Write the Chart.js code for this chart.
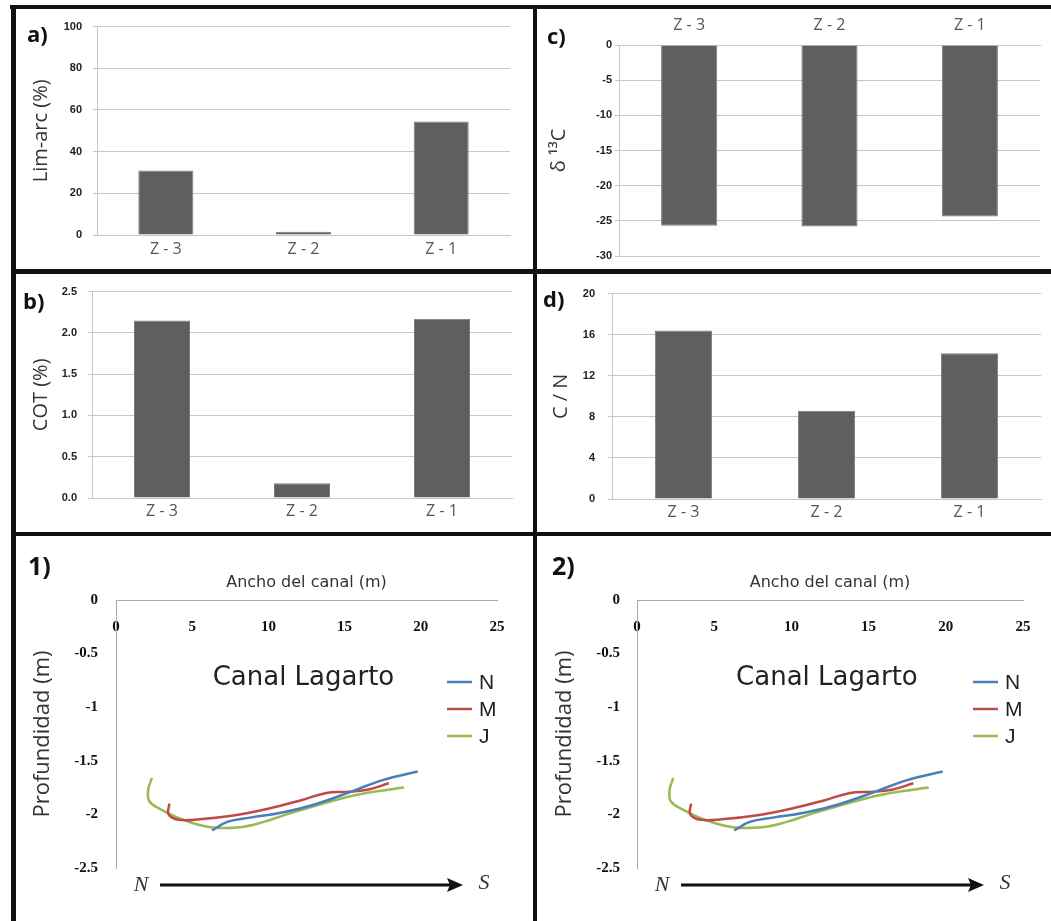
<!DOCTYPE html>
<html>
<head>
<meta charset="utf-8">
<script src="https://cdn.jsdelivr.net/npm/chart.js@4.4.1/dist/chart.umd.min.js"></script>
<style>
  body { margin: 0; background: #fff; width: 1051px; height: 921px; position: relative; overflow: hidden; }
  canvas { position: absolute; }
  .rule { position: absolute; background: #111; }
  .tag { position: absolute; font: 700 22px 'Open Sans', sans-serif; line-height: 1; color: #111; }
  .tag.big { font-size: 25px; }
</style>
</head>
<body>
<div class="rule" style="left:10px;top:5px;width:1041px;height:4px"></div>
<div class="rule" style="left:11px;top:5px;width:5px;height:916px"></div>
<div class="rule" style="left:533px;top:5px;width:4px;height:916px"></div>
<div class="rule" style="left:11px;top:269px;width:1040px;height:5px"></div>
<div class="rule" style="left:11px;top:532px;width:1040px;height:4px"></div>

<canvas id="chartA"></canvas>
<canvas id="chartC"></canvas>
<canvas id="chartB"></canvas>
<canvas id="chartD"></canvas>
<canvas id="chart1"></canvas>
<canvas id="chart2"></canvas>

<div class="tag" style="left:27px;top:22px">a)</div>
<div class="tag" style="left:547px;top:24px">c)</div>
<div class="tag" style="left:23px;top:289px">b)</div>
<div class="tag" style="left:543px;top:287px">d)</div>
<div class="tag big" style="left:28px;top:553px">1)</div>
<div class="tag big" style="left:552px;top:553px">2)</div>

<script>
// bar panels
const zones = ['Z - 3', 'Z - 2', 'Z - 1'];
const limArc = [31, 1.5, 54.5];
const cot = [2.15, 0.18, 2.17];
const d13C = [-25.7, -25.8, -24.4];
const cn = [16.4, 8.6, 14.2];

const limArcTicks = [0, 20, 40, 60, 80, 100];
const cotTicks = [0, 0.5, 1, 1.5, 2, 2.5];
const d13CTicks = [-30, -25, -20, -15, -10, -5, 0];
const cnTicks = [0, 4, 8, 12, 16, 20];

// channel profiles (ancho del canal vs profundidad)
const seriesNames = ['N', 'M', 'J'];
const seriesColors = ['#4a7ebb', '#be4b48', '#98b954'];
const widthN = [6.3, 7.3, 8.8, 11.0, 13.2, 15.4, 17.5, 19.8];
const depthN = [-2.15, -2.07, -2.03, -1.98, -1.90, -1.79, -1.68, -1.60];
const widthM = [3.5, 3.45, 4.1, 5.5, 7.7, 9.9, 12.1, 13.8, 15.1, 16.5, 17.9];
const depthM = [-1.90, -2.00, -2.05, -2.045, -2.01, -1.95, -1.87, -1.80, -1.79, -1.77, -1.71];
const widthJ = [2.35, 2.1, 2.2, 2.9, 4.4, 6.2, 8.1, 9.7, 11.2, 14.3, 16.4, 18.9];
const depthJ = [-1.66, -1.78, -1.88, -1.95, -2.05, -2.12, -2.12, -2.07, -2.0, -1.87, -1.80, -1.75];
const widthTicks = [0, 5, 10, 15, 20, 25];
const depthTicks = [-2.5, -2, -1.5, -1, -0.5, 0];

const GRID = '#c6c6c6';

function place(id, cell) {
    const cv = document.getElementById(id);
    cv.width = cell.w;
    cv.height = cell.h;
    cv.style.left = cell.x + 'px';
    cv.style.top = cell.y + 'px';
    return cv;
}

function barPanel(id, cell, area, values, ticks, title, o) {
    const cv = place(id, cell);
    const top = !!o.xTop;
    new Chart(cv, {
        type: 'bar',
        data: {
            labels: zones,
            datasets: [{
                data: values,
                backgroundColor: '#5f5f5f',
                borderColor: '#7b7b7b',
                borderWidth: 1,
                categoryPercentage: 1,
                barPercentage: 0.4
            }]
        },
        options: {
            responsive: false,
            animation: false,
            layout: { padding: {
                left: 0,
                right: cell.x + cell.w - area.r,
                top: top ? 0 : area.t - cell.y,
                bottom: top ? cell.y + cell.h - area.b : 0
            } },
            plugins: { legend: { display: false }, tooltip: { enabled: false } },
            scales: {
                x: {
                    position: top ? 'top' : 'bottom',
                    grid: { display: false, drawTicks: false },
                    border: { color: GRID },
                    ticks: { color: '#555', font: { family: 'Open Sans', size: 16 }, padding: o.xPad },
                    afterFit: s => { s.height = top ? area.t - cell.y : cell.y + cell.h - area.b; }
                },
                y: {
                    min: ticks[0],
                    max: ticks[ticks.length - 1],
                    afterBuildTicks: s => { s.ticks = ticks.map(v => ({ value: v })); },
                    grid: { color: GRID, tickLength: 4 },
                    border: { color: GRID },
                    ticks: {
                        color: '#222',
                        font: { family: 'Liberation Sans', size: 11, weight: 'bold' },
                        padding: o.yPad,
                        callback: o.fmt || (v => v)
                    },
                    title: {
                        display: true, text: title, color: '#333',
                        font: { family: 'Open Sans', size: 20 },
                        padding: { top: o.tPad, bottom: 0 }
                    },
                    afterFit: s => { s.width = area.l - cell.x; }
                }
            }
        }
    });
}

const profileDecor = {
    id: 'profileDecor',
    afterDraw(chart) {
        const { ctx, chartArea: a, scales: { x, y } } = chart;
        ctx.save();
        // axis title above the top axis
        ctx.fillStyle = '#333';
        ctx.font = '16px "DejaVu Sans"';
        ctx.textAlign = 'center';
        ctx.textBaseline = 'middle';
        ctx.fillText('Ancho del canal (m)', (a.left + a.right) / 2, a.top - 17);

        ctx.fillStyle = '#222';
        ctx.font = '26px "DejaVu Sans"';
        ctx.fillText('Canal Lagarto', x.getPixelForValue(12.3), y.getPixelForValue(-0.73));

        // legend
        ctx.textAlign = 'left';
        ctx.font = '21px "Liberation Sans"';
        chart.data.datasets.forEach((ds, i) => {
            const ly = a.top + 82 + i * 27;
            ctx.strokeStyle = ds.borderColor;
            ctx.lineWidth = 2.5;
            ctx.beginPath();
            ctx.moveTo(a.right - 50, ly);
            ctx.lineTo(a.right - 25, ly);
            ctx.stroke();
            ctx.fillStyle = '#222';
            ctx.fillText(ds.label, a.right - 18, ly + 1);
        });

        // N -> S arrow
        const ay = a.bottom + 17;
        const tip = a.left + 347;
        ctx.font = 'italic 22px "Liberation Serif"';
        ctx.fillStyle = '#333';
        ctx.textAlign = 'center';
        ctx.fillText('N', a.left + 25, ay);
        ctx.fillText('S', a.left + 368, ay - 2);
        ctx.strokeStyle = '#111';
        ctx.lineWidth = 3;
        ctx.beginPath();
        ctx.moveTo(a.left + 44, ay);
        ctx.lineTo(tip - 10, ay);
        ctx.stroke();
        ctx.fillStyle = '#111';
        ctx.beginPath();
        ctx.moveTo(tip, ay);
        ctx.lineTo(tip - 16, ay - 7);
        ctx.lineTo(tip - 13, ay);
        ctx.lineTo(tip - 16, ay + 7);
        ctx.closePath();
        ctx.fill();
        ctx.restore();
    }
};

function profilePanel(id, cell, area, o) {
    const cv = place(id, cell);
    const xs = [widthN, widthM, widthJ];
    const ys = [depthN, depthM, depthJ];
    new Chart(cv, {
        type: 'scatter',
        data: {
            datasets: seriesNames.map((name, i) => ({
                label: name,
                data: xs[i].map((v, k) => ({ x: v, y: ys[i][k] })),
                showLine: true,
                borderColor: seriesColors[i],
                borderWidth: 2.5,
                pointRadius: 0,
                tension: 0.4
            }))
        },
        options: {
            responsive: false,
            animation: false,
            layout: { padding: {
                left: 0,
                top: area.t - cell.y,
                right: cell.x + cell.w - area.r,
                bottom: cell.y + cell.h - area.b
            } },
            plugins: { legend: { display: false }, tooltip: { enabled: false } },
            scales: {
                x: {
                    type: 'linear',
                    position: { y: 0 },
                    min: 0, max: 25,
                    afterBuildTicks: s => { s.ticks = widthTicks.map(v => ({ value: v })); },
                    grid: { display: false, drawTicks: false },
                    border: { color: '#a9a9a9' },
                    ticks: {
                        padding: 18,
                        color: '#111',
                        font: { family: 'Liberation Serif', size: 15, weight: 'bold' }
                    }
                },
                y: {
                    min: -2.5, max: 0,
                    afterBuildTicks: s => { s.ticks = depthTicks.map(v => ({ value: v })); },
                    grid: { display: false, drawTicks: false },
                    border: { color: '#a9a9a9' },
                    ticks: {
                        padding: o.yPad,
                        color: '#111',
                        font: { family: 'Liberation Serif', size: 15, weight: 'bold' },
                        callback: v => String(v)
                    },
                    title: {
                        display: true, text: 'Profundidad (m)', color: '#333',
                        font: { family: 'Open Sans', size: 22 },
                        padding: { top: o.tPad, bottom: 0 }
                    },
                    afterFit: s => { s.width = area.l - cell.x; }
                }
            }
        },
        plugins: [profileDecor]
    });
}

barPanel('chartA', { x: 16, y: 9, w: 517, h: 260 }, { l: 97, r: 510, t: 25, b: 235 },
    limArc, limArcTicks, 'Lim-arc (%)', { xPad: 5, yPad: 11, tPad: 13 });
barPanel('chartC', { x: 537, y: 9, w: 514, h: 260 }, { l: 619, r: 1040, t: 45, b: 256 },
    d13C, d13CTicks, 'δ ¹³C', { xTop: true, xPad: 10, yPad: 3, tPad: 10 });
barPanel('chartB', { x: 16, y: 274, w: 517, h: 258 }, { l: 92, r: 512, t: 287, b: 498 },
    cot, cotTicks, 'COT (%)', { xPad: 4, yPad: 11, tPad: 13, fmt: v => v.toFixed(1) });
barPanel('chartD', { x: 537, y: 274, w: 514, h: 258 }, { l: 612, r: 1041, t: 290, b: 499 },
    cn, cnTicks, 'C / N', { xPad: 4, yPad: 13, tPad: 12 });

profilePanel('chart1', { x: 16, y: 536, w: 517, h: 385 }, { l: 116, r: 497, t: 600, b: 868 }, { yPad: 18, tPad: 14 });
profilePanel('chart2', { x: 537, y: 536, w: 514, h: 385 }, { l: 637, r: 1023, t: 600, b: 868 }, { yPad: 17, tPad: 15 });
</script>
</body>
</html>
